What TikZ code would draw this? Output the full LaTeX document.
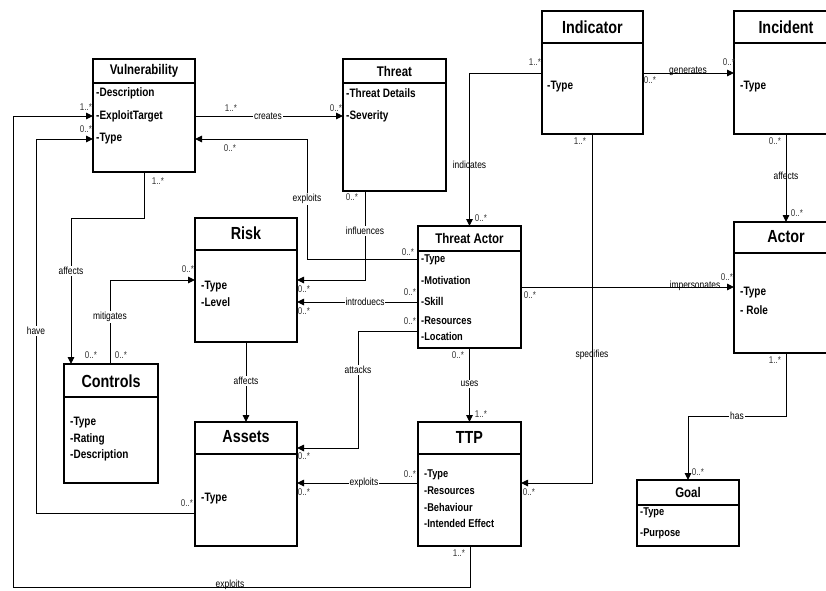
\documentclass[tikz,border=0pt]{standalone}
\usepackage{fontspec}
\setmainfont{Liberation Sans}[FakeStretch=0.82]
\usetikzlibrary{arrows.meta,calc}
\begin{document}
\begin{tikzpicture}[x=1pt,y=-1pt,
  box/.style={draw, line width=1.4pt, inner sep=0pt, outer sep=0pt, anchor=north west},
  sep/.style={line width=1.4pt},
  conn/.style={line width=0.95pt},
  arr/.style={conn, -{Triangle[length=7pt,width=6.5pt]}},
  lbl/.style={font=\fontsize{10.3}{10}\selectfont, inner sep=1pt, fill=white},
  lbln/.style={font=\fontsize{10.3}{10}\selectfont, inner sep=1pt},
  mul/.style={font=\fontsize{9.8}{9}\selectfont, inner sep=0.5pt, text=black!80},
  attr/.style={font=\bfseries\fontsize{12.2}{12}\selectfont, anchor=west, inner sep=0pt},
  attrs/.style={font=\bfseries\fontsize{11.3}{12}\selectfont, anchor=west, inner sep=0pt},
  ttl/.style={font=\bfseries\fontsize{14}{14}\selectfont, inner sep=0pt},
  bigttl/.style={font=\bfseries\fontsize{17.5}{18}\selectfont, inner sep=0pt},
]
\useasboundingbox (0,0) rectangle (826,590);
\clip (0,0) rectangle (826,590);

% ---------- boxes ----------
\node[box, minimum width=102pt, minimum height=113pt] (vuln) at (93,59) {};
\draw[sep] (vuln.west |- 0,83) -- (vuln.east |- 0,83);
\node[ttl] (vulnT) at (144,71) {Vulnerability};
\node[attr] (v1) at (96,93) {-Description};
\node[attr] (v2) at (96,116) {-ExploitTarget};
\node[attr] (v3) at (96,139) {-Type};

\node[box, minimum width=103pt, minimum height=132pt] (threat) at (343,59) {};
\draw[sep] (threat.west |- 0,83) -- (threat.east |- 0,83);
\node[ttl] (threatT) at (394.5,71) {Threat};
\node[attr] (t1) at (346,93) {-Threat Details};
\node[attr] (t2) at (346,116) {-Severity};

\node[box, minimum width=101pt, minimum height=123pt] (indicator) at (542,11) {};
\draw[sep] (indicator.west |- 0,43) -- (indicator.east |- 0,43);
\node[bigttl] (indT) at (592.5,27) {Indicator};
\node[attr] (i1) at (547,87) {-Type};

\node[box, minimum width=104pt, minimum height=123pt] (incident) at (734,11) {};
\draw[sep] (incident.west |- 0,43) -- (incident.east |- 0,43);
\node[bigttl] (incT) at (786,27) {Incident};
\node[attr] (n1) at (740,87) {-Type};

\node[box, minimum width=103pt, minimum height=122pt] (tact) at (418,226) {};
\draw[sep] (tact.west |- 0,251) -- (tact.east |- 0,251);
\node[ttl] (taT) at (469.5,238) {Threat Actor};
\node[attrs] (a1) at (421,260) {-Type};
\node[attrs] (a2) at (421,280) {-Motivation};
\node[attrs] (a3) at (421,301) {-Skill};
\node[attrs] (a4) at (421,321) {-Resources};
\node[attrs] (a5) at (421,336) {-Location};

\node[box, minimum width=102pt, minimum height=124pt] (risk) at (195,218) {};
\draw[sep] (risk.west |- 0,250) -- (risk.east |- 0,250);
\node[bigttl] (riskT) at (246,233) {Risk};
\node[attr] (r1) at (201,287) {-Type};
\node[attr] (r2) at (201,302) {-Level};

\node[box, minimum width=104pt, minimum height=131pt] (actor) at (734,222) {};
\draw[sep] (actor.west |- 0,253) -- (actor.east |- 0,253);
\node[bigttl] (actT) at (786,237) {Actor};
\node[attr] (o1) at (740,293) {-Type};
\node[attr] (o2) at (740,310) {- Role};

\node[box, minimum width=94pt, minimum height=119pt] (controls) at (64,364) {};
\draw[sep] (controls.west |- 0,397) -- (controls.east |- 0,397);
\node[bigttl] (conT) at (111,381) {Controls};
\node[attr] (k1) at (70,423) {-Type};
\node[attr] (k2) at (70,439) {-Rating};
\node[attr] (k3) at (70,455) {-Description};

\node[box, minimum width=102pt, minimum height=124pt] (assets) at (195,422) {};
\draw[sep] (assets.west |- 0,454) -- (assets.east |- 0,454);
\node[bigttl] (assT) at (246,437) {Assets};
\node[attr] (s1) at (201,499) {-Type};

\node[box, minimum width=103pt, minimum height=124pt] (ttp) at (418,422) {};
\draw[sep] (ttp.west |- 0,454) -- (ttp.east |- 0,454);
\node[bigttl] (ttpT) at (469.5,437) {TTP};
\node[attrs] (p1) at (424,475) {-Type};
\node[attrs] (p2) at (424,491) {-Resources};
\node[attrs] (p3) at (424,507) {-Behaviour};
\node[attrs] (p4) at (424,523) {-Intended Effect};

\node[box, minimum width=102pt, minimum height=66pt] (goal) at (637,480) {};
\draw[sep] (goal.west |- 0,505) -- (goal.east |- 0,505);
\node[ttl] (goalT) at (688,492) {Goal};
\node[attrs] (g1) at (640,513) {-Type};
\node[attrs] (g2) at (640,534) {-Purpose};

% ---------- connectors ----------
% creates
\draw[arr] (vuln.east |- 0,116) -- (threat.west |- 0,116);
\node[lbl] (lcreates) at (268,116) {creates};
\node[mul] at (231,108) {1..*};
\node[mul] at (336,108) {0..*};

% exploits (Threat Actor -> Vulnerability)
\draw[arr] (tact.west |- 0,259) -| (307,139) -- (vuln.east |- 0,139);
\node[lbl] (lexp1) at (307,199) {exploits};
\node[mul] at (230,148) {0..*};
\node[mul] at (408,252) {0..*};

% influences
\draw[arr] (threat.south -| 365,0) -- (365,280) -- (risk.east |- 0,280);
\node[lbl] (linf) at (365,231) {influences};
\node[mul] at (352,197) {0..*};
\node[mul] at (304,289) {0..*};

% introduecs
\draw[arr] (tact.west |- 0,302) -- (risk.east |- 0,302);
\node[lbl] (lintro) at (365,302) {introduecs};
\node[mul] at (410,292) {0..*};
\node[mul] at (304,311) {0..*};

% attacks
\draw[arr] (tact.west |- 0,331) -| (358,448) -- (assets.east |- 0,448);
\node[lbl] (latt) at (358,370) {attacks};
\node[mul] at (410,321) {0..*};
\node[mul] at (304,456) {0..*};

% affects (Risk -> Assets)
\draw[arr] (risk.south) -- (assets.north);
\node[lbl] (laff1) at (246,381) {affects};

% mitigates
\draw[arr] (controls.north -| 110,0) |- (risk.west |- 0,280);
\node[lbl] (lmit) at (110,317) {mitigates};
\node[mul] at (121,355) {0..*};
\node[mul] at (188,269) {0..*};

% affects (Vulnerability -> Controls)
\draw[arr] (vuln.south -| 144,0) |- (71,218) -- (controls.north -| 71,0);
\node[lbl] (laff2) at (71,271) {affects};
\node[mul] at (158,181) {1..*};
\node[mul] at (91,355) {0..*};

% have
\draw[arr] (assets.west |- 0,513) -| (36,139) -- (vuln.west |- 0,139);
\node[lbl] (lhave) at (36,331) {have};
\node[mul] at (187,503) {0..*};
\node[mul] at (86,129) {0..*};

% exploits (TTP -> Vulnerability)
\draw[arr] (ttp.south -| 470,0) |- (13,587) |- (vuln.west |- 0,116);
\node[lbln] (lexp2) at (230,585) {exploits};
\node[mul] at (459,553) {1..*};
\node[mul] at (86,107) {1..*};

% exploits (TTP -> Assets)
\draw[arr] (ttp.west |- 0,483) -- (assets.east |- 0,483);
\node[lbl] (lexp3) at (364,483) {exploits};
\node[mul] at (410,474) {0..*};
\node[mul] at (304,492) {0..*};

% uses
\draw[arr] (tact.south) -- (ttp.north);
\node[lbl] (luses) at (469.5,384) {uses};
\node[mul] at (458,355) {0..*};
\node[mul] at (481,414) {1..*};

% indicates
\draw[arr] (indicator.west |- 0,73) -| (tact.north);
\node[lbln] (lind) at (469.5,165) {indicates};
\node[mul] at (535,62) {1..*};
\node[mul] at (481,218) {0..*};

% generates
\draw[arr] (indicator.east |- 0,73) -- (incident.west |- 0,73);
\node[lbln] (lgen) at (688,71) {generates};
\node[mul] at (650,80) {0..*};
\node[mul] at (729,62) {0..*};

% specifies
\draw[arr] (indicator.south -| 592,0) |- (ttp.east |- 0,483);
\node[lbln] (lspec) at (592,355) {specifies};
\node[mul] at (580,141) {1..*};
\node[mul] at (529,492) {0..*};

% impersonates
\draw[arr] (tact.east |- 0,287) -- (actor.west |- 0,287);
\node[lbln] (limp) at (695,286) {impersonates};
\node[mul] at (530,295) {0..*};
\node[mul] at (727,277) {0..*};

% affects (Incident -> Actor)
\draw[arr] (incident.south -| 786,0) -- (actor.north -| 786,0);
\node[lbln] (laff3) at (786,176) {affects};
\node[mul] at (775,141) {0..*};
\node[mul] at (797,213) {0..*};

% has
\draw[arr] (actor.south -| 786,0) |- (goal.north |- 0,416) -- (goal.north);
\node[lbl] (lhas) at (737,416) {has};
\node[mul] at (775,360) {1..*};
\node[mul] at (698,472) {0..*};
\end{tikzpicture}
\end{document}
